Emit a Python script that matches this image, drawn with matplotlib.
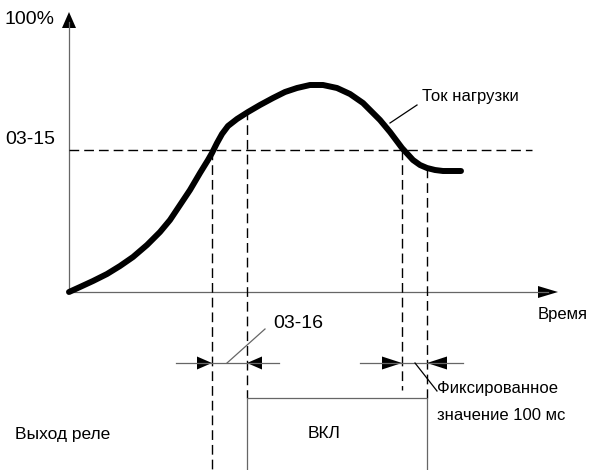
import matplotlib.pyplot as plt
from matplotlib.patches import Polygon

# Load current curve (pixel coords, y downwards)
curve_x = [69, 80, 93, 107, 120, 133, 147, 160, 170, 180, 190, 200, 208, 212, 217, 222,
           228, 237, 248, 260, 273, 285, 297, 310, 323, 337, 350, 363, 370, 380, 390,
           402, 413, 420, 427, 435, 443, 452, 461]
curve_y = [292, 287, 281, 274, 266, 257, 245, 232, 220, 205, 190, 173, 160, 153, 143, 134,
           126, 119, 112, 105, 98, 92, 88, 85, 85, 88, 94, 103, 110, 120, 132,
           148, 160, 165, 168, 170, 171, 171, 171]

# key levels / instants
origin = (69, 292)
y_top = 12
x_end = 558
level_0315 = 150
t_on_cross = 212    # curve crosses 03-15 going up
t_on = 247          # relay on (after 03-16)
t_off_cross = 402   # curve crosses 03-15 going down
t_off = 427         # relay off (after 100 ms)
dim_y = 363
relay_y = 398
bottom = 470

INK = "black"
AXIS = "#666666"
FONT = ["Liberation Sans", "DejaVu Sans"]

fig = plt.figure(figsize=(5.92, 4.70), dpi=100)
ax = fig.add_axes([0, 0, 1, 1])
ax.set_xlim(0, 592)
ax.set_ylim(470, 0)
ax.axis("off")


def tri(tip, direction, length, half):
    """filled triangle arrowhead, direction in {'up','right','left'}"""
    x, y = tip
    if direction == "up":
        pts = [(x, y), (x - half, y + length), (x + half, y + length)]
    elif direction == "right":
        pts = [(x, y), (x - length, y - half), (x - length, y + half)]
    else:
        pts = [(x, y), (x + length, y - half), (x + length, y + half)]
    ax.add_patch(Polygon(pts, closed=True, color=INK, lw=0))


# axes
ax.plot([origin[0], origin[0]], [origin[1], y_top + 10], color=AXIS, lw=0.9)
ax.plot([origin[0], x_end - 10], [origin[1], origin[1]], color=AXIS, lw=0.9)
tri((origin[0], y_top), "up", 16, 7)
tri((x_end, origin[1]), "right", 20, 6)

dash = (0, (7, 3.6))
# threshold level
ax.plot([origin[0], 532], [level_0315, level_0315], color=INK, lw=1.0, ls=dash)
# vertical guides
ax.plot([t_on_cross, t_on_cross], [level_0315, bottom], color=INK, lw=1.0, ls=dash)
ax.plot([t_on, t_on], [110, relay_y], color=INK, lw=1.0, ls=dash)
ax.plot([t_off_cross, t_off_cross], [level_0315, 390], color=INK, lw=1.0, ls=dash)
ax.plot([t_off, t_off], [168, relay_y], color=INK, lw=1.0, ls=dash)

# relay output (ON pulse)
ax.plot([t_on, t_on, t_off, t_off], [bottom, relay_y, relay_y, bottom], color=AXIS, lw=0.9)

# load current
ax.plot(curve_x, curve_y, color=INK, lw=4.3, solid_capstyle="round", solid_joinstyle="round")

# dimension arrows
ax.plot([176, 279], [dim_y, dim_y], color=AXIS, lw=0.9)
tri((t_on_cross, dim_y), "right", 15, 6.5)
tri((t_on, dim_y), "left", 15, 6.5)
ax.plot([360, 463], [dim_y, dim_y], color=AXIS, lw=0.9)
tri((t_off_cross, dim_y), "right", 20, 6.5)
tri((t_off, dim_y), "left", 20, 6.5)

# leader lines
ax.plot([227, 265], [363, 329], color=AXIS, lw=0.9)
ax.plot([390, 417], [123, 105], color=INK, lw=0.9)
ax.plot([415, 437], [363, 391], color=INK, lw=0.9)

# labels
ax.text(5, 20, "100%", fontsize=14, family=FONT, va="center", ha="left")
ax.text(5, 140, "03-15", fontsize=14, family=FONT, va="center", ha="left")
ax.text(273, 324, "03-16", fontsize=14, family=FONT, va="center", ha="left")
ax.text(422, 97, "Ток нагрузки", fontsize=12, family=FONT, va="center", ha="left")
ax.text(588, 315, "Время", fontsize=12, family=FONT, va="center", ha="right")
ax.text(437, 389, "Фиксированное", fontsize=12, family=FONT, va="center", ha="left")
ax.text(437, 416, "значение 100 мс", fontsize=12, family=FONT, va="center", ha="left")
ax.text(324, 434, "ВКЛ", fontsize=12.5, family=FONT, va="center", ha="center")
ax.text(15, 434, "Выход реле", fontsize=12.5, family=FONT, va="center", ha="left")

fig.savefig("out.png", dpi=100)
plt.close(fig)
